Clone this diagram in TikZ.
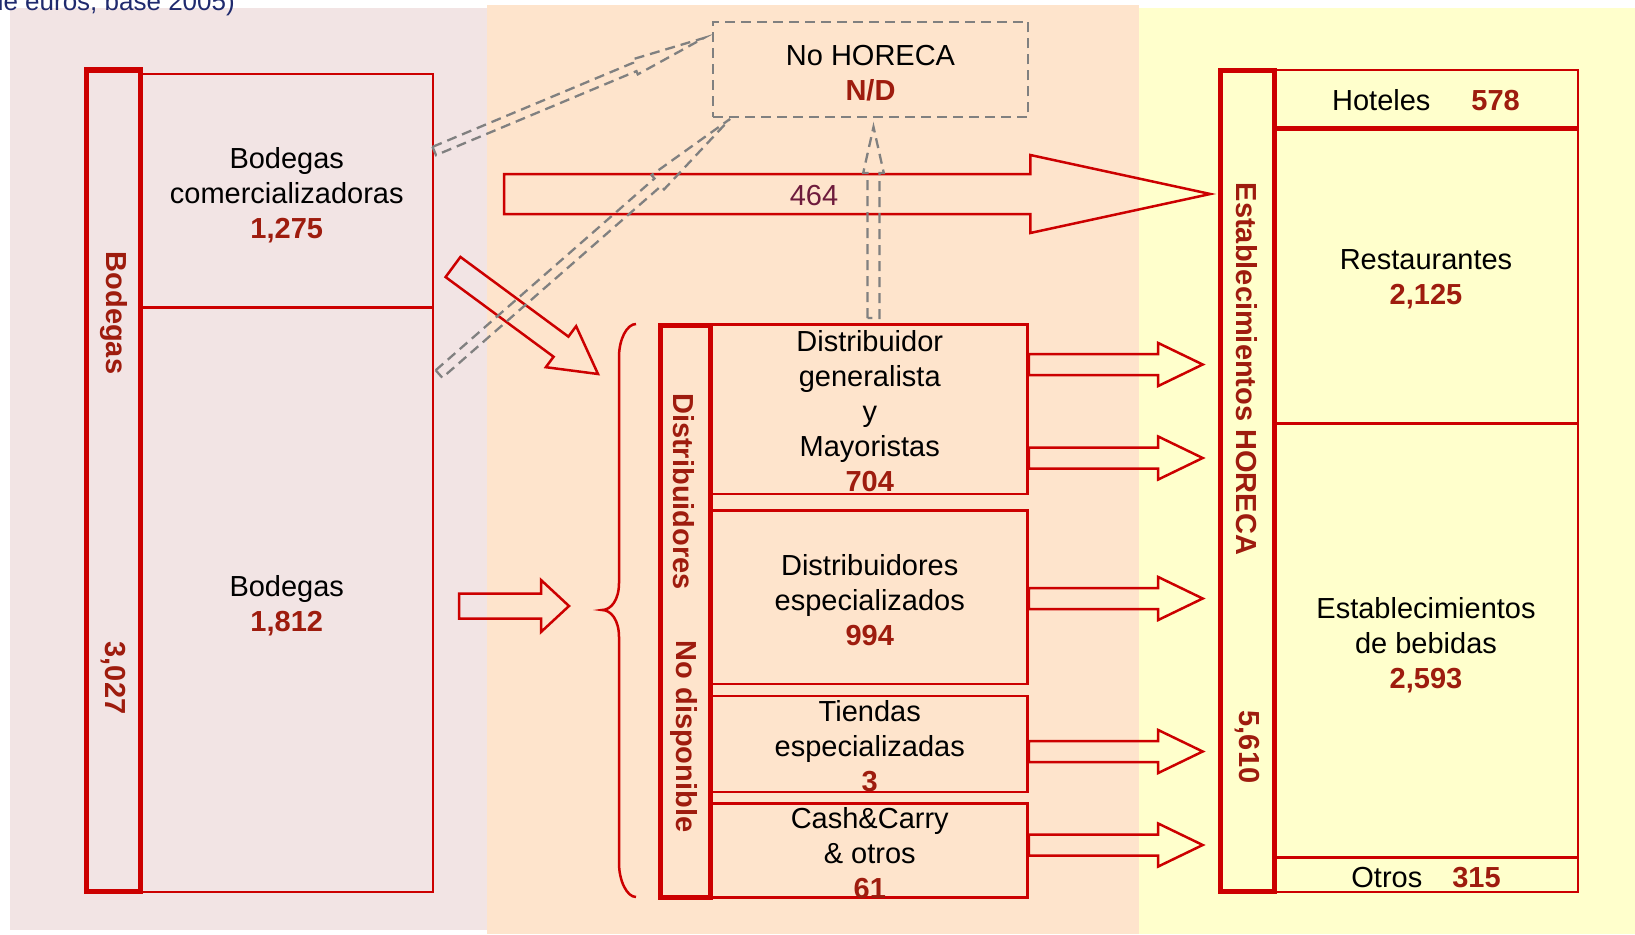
\documentclass[tikz,border=0pt]{standalone}
\usepackage{fontspec}
\setmainfont{Liberation Sans}
\usepackage{xcolor}
\usetikzlibrary{calc}
\definecolor{hred}{HTML}{CC0000}
\definecolor{numred}{HTML}{9E1C0E}
\definecolor{val464}{HTML}{6E1B3C}
\definecolor{bgpink}{HTML}{F2E4E4}
\definecolor{bgpeach}{HTML}{FEE4CC}
\definecolor{bgyellow}{HTML}{FFFFCC}
\definecolor{dgray}{HTML}{808080}
\definecolor{navy}{HTML}{1F2A6E}
\newcommand{\amt}[1]{{\bfseries\color{numred}#1}}
% hollow block arrow: [style]{tail}{tip}{half shaft}{half head}{head length}
\newcommand{\blockarrow}[6][]{%
  \coordinate (ba-hb) at ($(#3)!#6!(#2)$);
  \draw[#1] ($(#2)!#4!90:(#3)$) -- ($(ba-hb)!#4!90:(#3)$) -- ($(ba-hb)!#5!90:(#3)$)
    -- (#3) -- ($(ba-hb)!#5!-90:(#3)$) -- ($(ba-hb)!#4!-90:(#3)$)
    -- ($(#2)!#4!-90:(#3)$) -- cycle;}

\begin{document}
\begin{tikzpicture}[x=1pt,y=-1pt,
  cell/.style={draw=hred,line width=2.5pt,inner sep=0pt},
  celltxt/.style={inner sep=0pt,align=center,font=\fontsize{29}{35}\selectfont},
  bar/.style={draw=hred,line width=5pt,inner sep=0pt},
  barlbl/.style={rotate=-90,inner sep=0pt,text=numred,font=\fontsize{29}{35}\selectfont\bfseries},
  flow/.style={draw=hred,line width=2.5pt,line join=miter},
  ghost/.style={draw=dgray,line width=2.3pt,dash pattern=on 10pt off 6pt}
]
  \useasboundingbox (0,0) rectangle (1635,934);
  % panels
  \fill[bgpink] (10,8) rectangle (487,930);
  \fill[bgpeach] (487,5) rectangle (1139,934);
  \fill[bgyellow] (1139,8) rectangle (1635,934);
  \node[anchor=base east,inner sep=0pt,text=navy,font=\fontsize{26}{30}\selectfont] (title) at (235,11)
    {de euros, base 2005)};

  % Bodegas
  \node[bar,minimum width=54pt,minimum height=821pt] (bodbar) at (113.5,480.5) {};
  \node[barlbl] (bodlbl) at (113.5,313) {Bodegas};
  \node[barlbl] (bodtot) at (113.5,678) {3,027};
  \node[cell,minimum width=292.5pt,minimum height=233.5pt] (comer) at (286.75,190.75) {};
  \node[celltxt] (comertx) at ([yshift=-4.5pt]comer.center)
    {Bodegas\\comercializadoras\\\amt{1,275}};
  \node[cell,minimum width=292.5pt,minimum height=584.5pt] (bodeg) at (286.75,599.75) {};
  \node[celltxt] (bodegtx) at ([yshift=-5.5pt]bodeg.center) {Bodegas\\\amt{1,812}};

  % Distribuidores
  \node[bar,minimum width=50pt,minimum height=571.5pt] (distbar) at (685.8,611.25) {};
  \node[barlbl] (distlbl) at (684,491.5) {Distribuidores};
  \node[barlbl] (distnd) at (684,736.5) {No disponible};
  \node[cell,minimum width=315.5pt,minimum height=169.5pt] (gen) at (869.75,409.25) {};
  \node[celltxt] (gentx) at ([yshift=-2pt]gen.center)
    {Distribuidor\\generalista\\y\\Mayoristas\\\amt{704}};
  \node[cell,minimum width=315.5pt,minimum height=173.5pt] (esp) at (869.75,597.25) {};
  \node[celltxt] (esptx) at ([yshift=-2.5pt]esp.center)
    {Distribuidores\\especializados\\\amt{994}};
  \node[cell,minimum width=315.5pt,minimum height=96pt] (tie) at (869.75,744) {};
  \node[celltxt] (tietx) at ([yshift=-2pt]tie.center) {Tiendas\\especializadas\\\amt{3}};
  \node[cell,minimum width=315.5pt,minimum height=94.2pt] (cash) at (869.75,850.4) {};
  \node[celltxt] (cashtx) at ([yshift=-3pt]cash.center) {Cash\&Carry\\\& otros\\\amt{61}};
  \node[cell,ghost,minimum width=315pt,minimum height=95.6pt] (nohor) at (870.5,69.5) {};
  \node[celltxt] (nohortx) at ([yshift=-3.5pt]nohor.center) {No HORECA\\\amt{N/D}};

  % HORECA
  \node[bar,minimum width=53.4pt,minimum height=820.2pt] (horbar) at (1247.5,480.9) {};
  \node[barlbl] (horlbl) at (1247,369) {Establecimientos HORECA};
  \node[barlbl] (hortot) at (1247,747) {5,610};
  \node[cell,minimum width=304pt,minimum height=57pt] (hot) at (1426,98.5) {};
  \node[celltxt] (hottx) at ([yshift=-2pt]hot.center) {Hoteles\hspace{41pt}\amt{578}};
  \node[cell,minimum width=304pt,minimum height=296.5pt] (res) at (1426,275.25) {};
  \node[celltxt] (restx) at ([yshift=-4pt]res.center) {Restaurantes\\\amt{2,125}};
  \node[cell,minimum width=304pt,minimum height=434pt] (beb) at (1426,640.5) {};
  \node[celltxt] (bebtx) at ([yshift=-4.5pt]beb.center)
    {Establecimientos\\de bebidas\\\amt{2,593}};
  \node[cell,minimum width=304pt,minimum height=34.5pt] (otr) at (1426,874.75) {};
  \node[celltxt] (otrtx) at ([yshift=-3pt]otr.center) {Otros\hspace{30pt}\amt{315}};
  \draw[hred,line width=4.5pt] (hot.south west) -- (hot.south east);

  % flows
  \coordinate (t464) at (504,194);
  \coordinate (h464) at ([xshift=-8pt]horbar.west |- t464);
  \blockarrow[flow]{t464}{h464}{20pt}{39pt}{180pt}
  \node[font=\fontsize{29}{35}\selectfont,text=val464] (v464) at (814,196) {464};
  \coordinate (dgS) at (453,267);
  \coordinate (dgE) at (598,374);
  \blockarrow[flow]{dgS}{dgE}{12.5pt}{25.5pt}{46pt}
  \coordinate (hzS) at (459,606);
  \coordinate (hzE) at (569,606);
  \blockarrow[flow]{hzS}{hzE}{12.5pt}{26pt}{28pt}
  \foreach \src/\yy in {gen/364.5,gen/458,esp/598.5,tie/751.5,cash/845}{
    \coordinate (ra) at (\src.east |- 0,\yy);
    \coordinate (rb) at (1202.7,\yy);
    \blockarrow[flow]{ra}{rb}{10.5pt}{21.5pt}{44.5pt}
  }
  \draw[hred,line width=2.5pt] (636,324) .. controls (627,324) and (619,339) .. (619,357)
    -- (619,583) .. controls (619,600) and (611,610) .. (602,610)
    .. controls (611,610) and (619,620) .. (619,637)
    -- (619,863) .. controls (619,881) and (627,897) .. (636,897);

  % to No HORECA
  \coordinate (naS) at (comer.east |- 0,151);
  \coordinate (naE) at ([xshift=-8pt]nohor.west |- 0,38);
  \blockarrow[ghost]{naS}{naE}{4.5pt}{8pt}{75pt}
  \coordinate (nbS) at (439,374);
  \coordinate (nbE) at (730,119);
  \blockarrow[ghost]{nbS}{nbE}{5pt}{9.5pt}{96pt}
  \coordinate (ncS) at (873.5,318);
  \coordinate (ncE) at (873.5,127);
  \blockarrow[ghost]{ncS}{ncE}{6pt}{10.3pt}{46pt}
\end{tikzpicture}
\end{document}
